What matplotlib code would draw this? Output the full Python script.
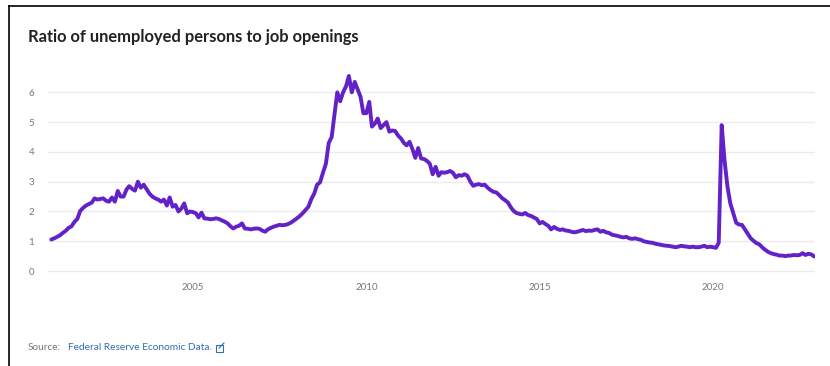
import datetime as dt

import matplotlib.pyplot as plt
import matplotlib.dates as mdates
from matplotlib.lines import Line2D
from matplotlib.patches import Rectangle
import pandas as pd


# Ratio of unemployed persons to job openings, monthly, Dec 2000 - Dec 2022
ratio_2000 = [1.06]
ratio_2001 = [1.10, 1.15, 1.20, 1.28, 1.35, 1.45, 1.50, 1.65, 1.75, 2.02, 2.12, 2.20]
ratio_2002 = [2.25, 2.30, 2.44, 2.40, 2.42, 2.44, 2.36, 2.33, 2.47, 2.33, 2.69, 2.50]
ratio_2003 = [2.50, 2.74, 2.85, 2.76, 2.70, 3.00, 2.80, 2.90, 2.75, 2.60, 2.50, 2.44]
ratio_2004 = [2.40, 2.33, 2.40, 2.20, 2.47, 2.16, 2.22, 2.00, 2.10, 2.27, 1.94, 2.00]
ratio_2005 = [1.98, 1.94, 1.80, 1.96, 1.77, 1.76, 1.74, 1.75, 1.77, 1.75, 1.70, 1.66]
ratio_2006 = [1.60, 1.50, 1.43, 1.49, 1.52, 1.60, 1.43, 1.42, 1.40, 1.42, 1.43, 1.42]
ratio_2007 = [1.36, 1.32, 1.40, 1.45, 1.49, 1.52, 1.55, 1.54, 1.55, 1.58, 1.63, 1.70]
ratio_2008 = [1.77, 1.85, 1.94, 2.05, 2.16, 2.42, 2.60, 2.90, 2.98, 3.30, 3.60, 4.30]
ratio_2009 = [4.50, 5.30, 6.00, 5.70, 6.00, 6.20, 6.55, 6.00, 6.35, 6.10, 5.85, 5.30]
ratio_2010 = [5.30, 5.68, 4.85, 4.95, 5.12, 4.80, 4.90, 5.00, 4.68, 4.72, 4.70, 4.55]
ratio_2011 = [4.45, 4.30, 4.22, 4.34, 4.10, 3.80, 4.13, 3.78, 3.76, 3.70, 3.60, 3.25]
ratio_2012 = [3.50, 3.20, 3.32, 3.30, 3.32, 3.36, 3.30, 3.15, 3.22, 3.20, 3.25, 3.20]
ratio_2013 = [3.00, 2.86, 2.90, 2.92, 2.88, 2.90, 2.80, 2.72, 2.66, 2.64, 2.55, 2.45]
ratio_2014 = [2.38, 2.30, 2.15, 2.02, 1.95, 1.92, 1.90, 1.95, 1.88, 1.85, 1.80, 1.75]
ratio_2015 = [1.60, 1.65, 1.58, 1.52, 1.40, 1.48, 1.42, 1.38, 1.40, 1.36, 1.35, 1.32]
ratio_2016 = [1.30, 1.32, 1.35, 1.38, 1.34, 1.36, 1.35, 1.38, 1.40, 1.32, 1.35, 1.30]
ratio_2017 = [1.28, 1.22, 1.20, 1.18, 1.15, 1.13, 1.15, 1.10, 1.08, 1.10, 1.07, 1.05]
ratio_2018 = [1.00, 0.98, 0.96, 0.95, 0.92, 0.90, 0.88, 0.86, 0.85, 0.84, 0.82, 0.80]
ratio_2019 = [0.82, 0.85, 0.83, 0.82, 0.80, 0.82, 0.80, 0.80, 0.82, 0.85, 0.80, 0.82]
ratio_2020 = [0.80, 0.78, 0.95, 4.90, 3.72, 2.83, 2.27, 1.94, 1.62, 1.56, 1.55, 1.40]
ratio_2021 = [1.25, 1.10, 1.02, 0.94, 0.90, 0.80, 0.72, 0.65, 0.60, 0.57, 0.55, 0.52]
ratio_2022 = [0.52, 0.50, 0.52, 0.52, 0.54, 0.53, 0.54, 0.60, 0.54, 0.58, 0.56, 0.49]

yearly = [
    ratio_2000, ratio_2001, ratio_2002, ratio_2003, ratio_2004, ratio_2005,
    ratio_2006, ratio_2007, ratio_2008, ratio_2009, ratio_2010, ratio_2011,
    ratio_2012, ratio_2013, ratio_2014, ratio_2015, ratio_2016, ratio_2017,
    ratio_2018, ratio_2019, ratio_2020, ratio_2021, ratio_2022,
]
ratio = [v for year in yearly for v in year]
months = pd.date_range("2000-12-01", periods=len(ratio), freq="MS")

y_ticks = [0, 1, 2, 3, 4, 5, 6]
x_tick_years = [2005, 2010, 2015, 2020]

TITLE = "Ratio of unemployed persons to job openings"
LINE_COLOR = "#6322c8"
GRID_COLOR = "#ebebeb"
TICK_COLOR = "#777777"
LINK_COLOR = "#2f6fae"

plt.rcParams["font.family"] = ["Lato", "DejaVu Sans"]

fig = plt.figure(figsize=(8.3, 3.66), dpi=100)
fig.patch.set_facecolor("white")

ax = fig.add_axes([48 / 830, 1 - 280 / 366, (815 - 48) / 830, 210 / 366])
ax.plot(months, ratio, color=LINE_COLOR, lw=2.8, solid_capstyle="round",
        solid_joinstyle="round", zorder=3)

ax.set_ylim(-0.3, 6.75)
ax.set_xlim(dt.datetime(2000, 10, 27), dt.datetime(2022, 12, 10))
ax.set_yticks(y_ticks)
ax.set_xticks([dt.datetime(y, 1, 1) for y in x_tick_years])
ax.xaxis.set_major_formatter(mdates.DateFormatter("%Y"))
ax.grid(axis="y", color=GRID_COLOR, lw=1)
ax.set_axisbelow(True)
for side in ax.spines.values():
    side.set_visible(False)
ax.tick_params(axis="both", length=0, labelsize=7, labelcolor=TICK_COLOR)
ax.tick_params(axis="y", pad=10)
ax.tick_params(axis="x", pad=2)

fig.text(28 / 830, 1 - 37 / 366, TITLE, fontsize=11.9, fontweight="bold",
         color="#222222", va="center", ha="left")

fig.text(28 / 830, 1 - 348 / 366, "Source:", fontsize=7.2, color="#777777",
         va="center", ha="left")
fig.text(68 / 830, 1 - 348 / 366, "Federal Reserve Economic Data.", fontsize=7.3,
         color=LINK_COLOR, va="center", ha="left")

# small external-link icon after the source link
fig.add_artist(Rectangle((216 / 830, 1 - 352 / 366), 7 / 830, 7 / 366,
                         transform=fig.transFigure, fill=False,
                         edgecolor=LINK_COLOR, lw=0.8))
fig.add_artist(Line2D([219 / 830, 224 / 830], [1 - 348 / 366, 1 - 343 / 366],
                      transform=fig.transFigure, color=LINK_COLOR, lw=0.8))

# screenshot frame (top and left edges)
fig.add_artist(Line2D([9 / 830, 1.0], [1 - 6 / 366, 1 - 6 / 366],
                      transform=fig.transFigure, color="black", lw=1.2))
fig.add_artist(Line2D([9 / 830, 9 / 830], [1 - 6 / 366, 0.0],
                      transform=fig.transFigure, color="black", lw=1.2))

fig.savefig("out.png", dpi=100)
